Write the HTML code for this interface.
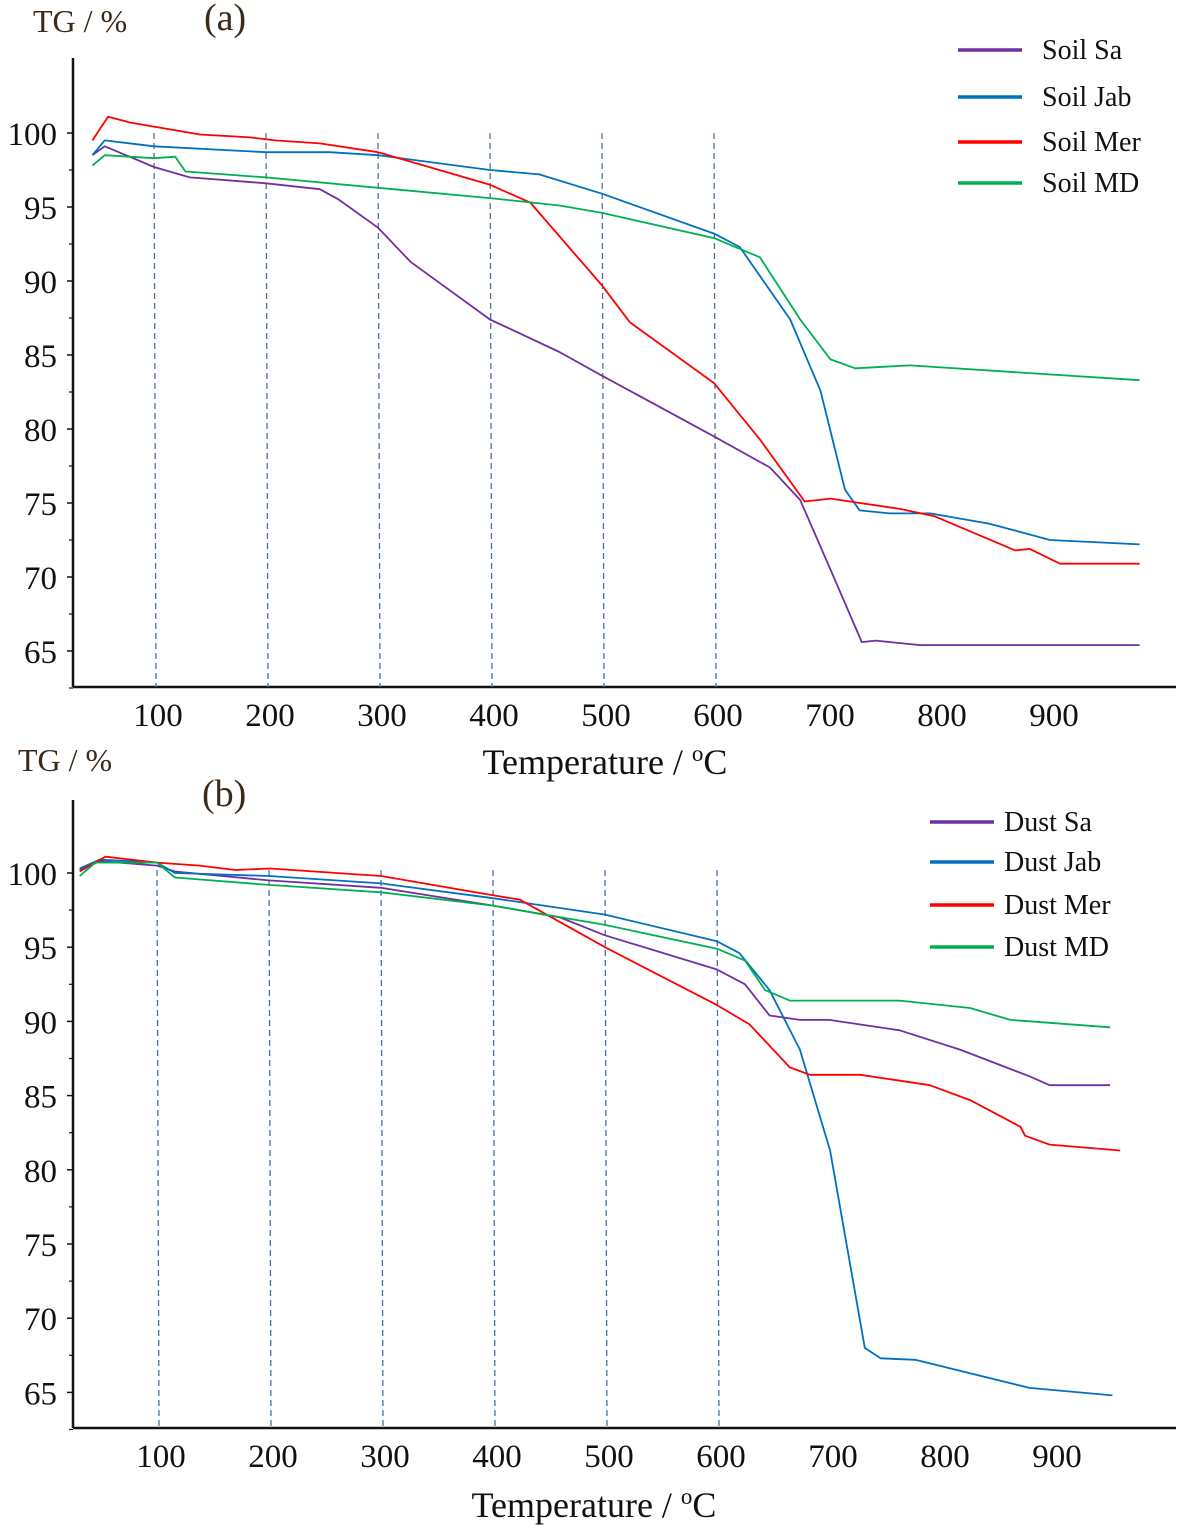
<!DOCTYPE html>
<html><head><meta charset="utf-8">
<style>
html,body{margin:0;padding:0;background:#fff;}
svg{display:block;font-family:"Liberation Serif",serif;}
</style></head>
<body>
<svg id="chart" width="1180" height="1526" viewBox="0 0 1180 1526" xmlns="http://www.w3.org/2000/svg">
  <g id="panelA">
    <text x="33" y="32" font-size="32" fill="#3a2a1a">TG / %</text>
    <text x="204" y="30" font-size="38" fill="#3a2a1a">(a)</text>
    <text x="605" y="774" font-size="36" text-anchor="middle" fill="#111">Temperature / <tspan font-size="23" dy="-13">o</tspan><tspan dy="13">C</tspan></text>
  </g>
  <g id="panelB">
    <text x="18" y="771" font-size="32" fill="#3a2a1a">TG / %</text>
    <text x="202" y="806" font-size="38" fill="#3a2a1a">(b)</text>
    <text x="594" y="1517" font-size="36" text-anchor="middle" fill="#111">Temperature / <tspan font-size="23" dy="-13">o</tspan><tspan dy="13">C</tspan></text>
  </g>
</svg>
<script>
const xTicks = [100,200,300,400,500,600,700,800,900];
const yTicks = [100,95,90,85,80,75,70,65];
const dashTemps = [100,200,300,400,500,600];

const soilNames = ["Soil Sa","Soil Jab","Soil Mer","Soil MD"];
const dustNames = ["Dust  Sa","Dust Jab","Dust Mer","Dust MD"];
const colors = ["#7030a0","#0070c0","#ff0000","#00b050"];

const soilSaT = [45,56,100,132,200,248,265,300,329,400,462,500,600,650,677,704,732,744,784,980];
const soilSaV = [98.5,99.1,97.7,97.0,96.6,96.2,95.5,93.6,91.3,87.4,85.2,83.6,79.5,77.4,75.2,70.5,65.6,65.7,65.4,65.4];
const soilJabT = [45,56,100,200,257,300,400,444,500,600,623,668,695,717,730,757,793,846,900,980];
const soilJabV = [98.5,99.5,99.1,98.7,98.7,98.5,97.5,97.2,95.9,93.2,92.3,87.4,82.6,75.9,74.5,74.3,74.3,73.6,72.5,72.2];
const soilMerT = [45,59,79,141,186,208,248,300,400,436,500,525,600,641,681,704,766,797,869,882,909,980];
const soilMerV = [99.5,101.1,100.7,99.9,99.7,99.5,99.3,98.7,96.5,95.3,89.7,87.2,83.1,79.3,75.1,75.3,74.6,74.1,71.8,71.9,70.9,70.9];
const soilMdT = [45,56,100,119,128,200,300,400,462,500,600,641,677,704,726,775,980];
const soilMdV = [97.8,98.5,98.3,98.4,97.4,97.0,96.3,95.6,95.1,94.6,92.9,91.6,87.4,84.7,84.1,84.3,83.3];

const dustSaT = [31,49,100,116,200,300,400,460,500,600,625,647,674,700,763,817,879,897,951];
const dustSaV = [100.2,100.8,100.5,100.1,99.5,99.0,97.8,97.0,95.8,93.5,92.5,90.4,90.1,90.1,89.4,88.1,86.3,85.7,85.7];
const dustJabT = [31,49,100,116,200,300,400,500,600,620,647,674,701,732,746,777,879,953];
const dustJabV = [100.3,100.9,100.7,100.0,99.8,99.3,98.3,97.2,95.4,94.6,92.1,88.1,81.3,68.0,67.3,67.2,65.3,64.8];
const dustMerT = [31,54,100,138,170,201,300,400,424,500,600,629,665,683,728,790,826,871,875,897,960];
const dustMerV = [100.1,101.1,100.7,100.5,100.2,100.3,99.8,98.5,98.2,95.0,91.1,89.8,86.9,86.4,86.4,85.7,84.7,82.9,82.3,81.7,81.3];
const dustMdT = [31,45,100,116,200,300,400,500,600,625,643,665,763,826,862,951];
const dustMdV = [99.8,100.7,100.7,99.7,99.2,98.7,97.8,96.5,94.9,94.1,92.1,91.4,91.4,90.9,90.1,89.6];

const NS = "http://www.w3.org/2000/svg";
function mk(tag, attrs, parent){const e=document.createElementNS(NS,tag);for(const k in attrs)e.setAttribute(k,attrs[k]);parent.appendChild(e);return e;}

function drawPanel(g, cfg, seriesT, seriesV, names){
  const xs = t => cfg.x0 + cfg.kx*t;
  const ys = v => cfg.y100 + (100-v)*cfg.ky;
  const ya = mk("line",{x1:cfg.axX,y1:cfg.top,x2:cfg.axX,y2:cfg.axY,stroke:"#111","stroke-width":2.5},g);
  
  
  const xa = mk("line",{x1:cfg.axX,y1:cfg.axY,x2:1176,y2:cfg.axY,stroke:"#111","stroke-width":2.5},g);
  
  
  yTicks.forEach(v=>{
    const y=ys(v);
    const t=mk("line",{x1:cfg.axX-6,y1:y,x2:cfg.axX,y2:y,stroke:"#111","stroke-width":1.5},g);
    
    
    const m=mk("line",{x1:cfg.axX-4,y1:ys(v-2.5),x2:cfg.axX,y2:ys(v-2.5),stroke:"#111","stroke-width":1.2},g);
    
    
    const l=mk("text",{x:cfg.axX-16,y:y+12,"font-size":33,"text-anchor":"end",fill:"#111"},g);
    l.textContent=v;
    
    
  });
  xTicks.forEach(t=>{
    const l=mk("text",{x:xs(t)+4,y:cfg.axY+39,"font-size":33,"text-anchor":"middle",fill:"#111"},g);
    l.textContent=t;
    
    
  });
  dashTemps.forEach(t=>{
    const d=mk("line",{x1:xs(t),y1:cfg.dashTop,x2:xs(t)+2,y2:cfg.axY,stroke:"#4a6fa5","stroke-width":1.3,"stroke-dasharray":"6,4"},g);
    
    
  });
  seriesT.forEach((T,i)=>{
    const pts=T.map((t,j)=>xs(t).toFixed(1)+","+ys(seriesV[i][j]).toFixed(1)).join(" ");
    const p=mk("polyline",{points:pts,fill:"none",stroke:colors[i],"stroke-width":1.8,"stroke-linejoin":"round"},g);
    
    
    const ly=cfg.legY[i];
    const ll=mk("line",{x1:cfg.legX,y1:ly,x2:cfg.legX+64,y2:ly,stroke:colors[i],"stroke-width":3.5},g);
    
    
    const lt=mk("text",{x:cfg.legX+cfg.legTx,y:ly+9,"font-size":28,fill:"#111","xml:space":"preserve"},g);
    lt.textContent=names[i];
    
    
  });
}

drawPanel(document.getElementById("panelA"),
  {x0:42,kx:1.12,y100:133,ky:14.8,axX:73,axY:687,top:58,dashTop:133,legX:958,legTx:84,legY:[50,97,142,183]},
  [soilSaT,soilJabT,soilMerT,soilMdT],[soilSaV,soilJabV,soilMerV,soilMdV],soilNames);
drawPanel(document.getElementById("panelB"),
  {x0:45,kx:1.12,y100:873,ky:14.84,axX:73,axY:1428,top:800,dashTop:870,legX:930,legTx:74,legY:[822,862,905,947]},
  [dustSaT,dustJabT,dustMerT,dustMdT],[dustSaV,dustJabV,dustMerV,dustMdV],dustNames);
</script>
</body></html>
